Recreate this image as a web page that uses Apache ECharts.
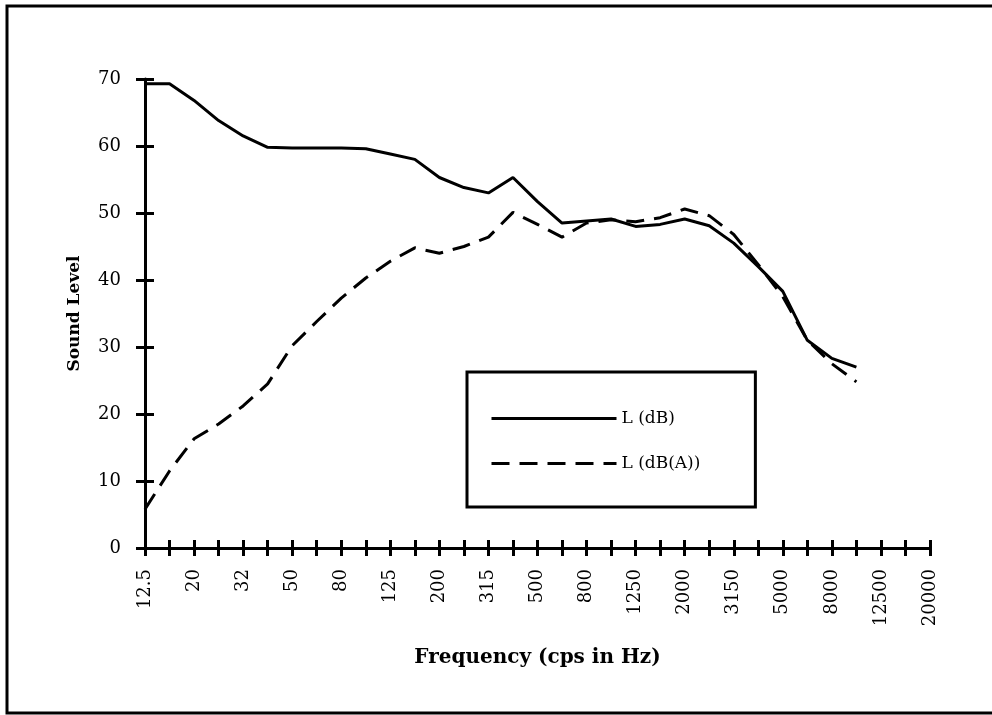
<!DOCTYPE html>
<html>
<head>
<meta charset="utf-8">
<script src="https://cdn.jsdelivr.net/npm/echarts@6/dist/echarts.min.js"></script>
<style>
  html, body { margin: 0; padding: 0; background: #fff; }
  #chart { width: 992px; height: 715px; }
</style>
</head>
<body>
<div id="chart"></div>
<script>
// 1/3 octave bands, label on every other one
var freqs = ['12.5','16','20','25','32','40','50','63','80','100','125','160','200','250','315','400','500','630','800','1000','1250','1600','2000','2500','3150','4000','5000','6300','8000','10000','12500','16000','20000'];
var levelDB = [69.3,69.3,66.8,63.8,61.5,59.8,59.7,59.7,59.7,59.6,58.8,58.0,55.3,53.8,53.0,55.3,51.7,48.5,48.8,49.1,48.0,48.3,49.1,48.1,45.5,42.0,38.3,31.0,28.3,27.0];
var levelDBA = [5.8,11.5,16.3,18.5,21.2,24.5,30.2,33.8,37.3,40.3,42.8,44.8,44.0,45.0,46.4,50.1,48.3,46.4,48.5,49.0,48.7,49.3,50.6,49.6,46.8,42.3,37.5,31.0,27.5,24.8];
var yTicks = { min: 0, max: 70, step: 10 };

var serif = '"DejaVu Serif", "Liberation Serif", serif';
var myChart = echarts.init(document.getElementById('chart'));

var option = {
  backgroundColor: '#fff',
  animation: false,
  grid: { left: 145, right: 62, top: 79, bottom: 167 },
  graphic: [{
    type: 'rect',
    shape: { x: 7, y: 6, width: 992, height: 707 },
    style: { fill: 'none', stroke: '#000', lineWidth: 3 },
    silent: true
  }],
  legend: {
    orient: 'vertical',
    left: 467,
    top: 372,
    padding: [38, 55, 35, 23],
    itemWidth: 125,
    itemHeight: 14,
    itemGap: 28,
    borderColor: '#000',
    borderWidth: 3,
    itemStyle: { opacity: 0 },
    lineStyle: { width: 3 },
    textStyle: { fontFamily: serif, fontSize: 17, color: '#000' },
    data: ['L (dB)', 'L (dB(A))']
  },
  xAxis: [{
    type: 'category',
    boundaryGap: false,
    data: freqs,
    name: 'Frequency (cps in Hz)',
    nameLocation: 'middle',
    nameGap: 100,
    nameMoveOverlap: false,
    nameTextStyle: { fontFamily: serif, fontSize: 20, fontWeight: 'bold', color: '#000', verticalAlign: 'top' },
    axisLine: { lineStyle: { color: '#000', width: 3 } },
    axisTick: { interval: 0, length: 8, lineStyle: { color: '#000', width: 3 } },
    axisLabel: { interval: 1, rotate: 90, margin: 21, fontFamily: serif, fontSize: 18, color: '#000' },
    splitLine: { show: false }
  }, {
    type: 'category',
    boundaryGap: false,
    data: freqs,
    position: 'bottom',
    axisLine: { show: false },
    axisTick: { interval: 0, inside: true, length: 8, lineStyle: { color: '#000', width: 3 } },
    axisLabel: { show: false },
    splitLine: { show: false }
  }],
  yAxis: [{
    type: 'value',
    min: yTicks.min,
    max: yTicks.max,
    interval: yTicks.step,
    name: 'Sound Level',
    nameLocation: 'middle',
    nameGap: 62,
    nameMoveOverlap: false,
    nameTextStyle: { fontFamily: serif, fontSize: 17, fontWeight: 'bold', color: '#000' },
    axisLine: { show: true, lineStyle: { color: '#000', width: 3 } },
    axisTick: { show: true, length: 9, lineStyle: { color: '#000', width: 3 } },
    axisLabel: { margin: 24, fontFamily: serif, fontSize: 18, color: '#000' },
    splitLine: { show: false }
  }, {
    type: 'value',
    min: yTicks.min,
    max: yTicks.max,
    interval: yTicks.step,
    position: 'left',
    axisLine: { show: false },
    axisTick: { show: true, inside: true, length: 9, lineStyle: { color: '#000', width: 3 } },
    axisLabel: { show: false },
    splitLine: { show: false }
  }],
  series: [{
    name: 'L (dB)',
    type: 'line',
    symbol: 'none',
    data: levelDB,
    lineStyle: { color: '#000', width: 3 },
    itemStyle: { color: '#000' }
  }, {
    name: 'L (dB(A))',
    type: 'line',
    symbol: 'none',
    data: levelDBA,
    lineStyle: { color: '#000', width: 3, type: [18, 10] },
    itemStyle: { color: '#000' }
  }]
};

myChart.setOption(option);
</script>
</body>
</html>
